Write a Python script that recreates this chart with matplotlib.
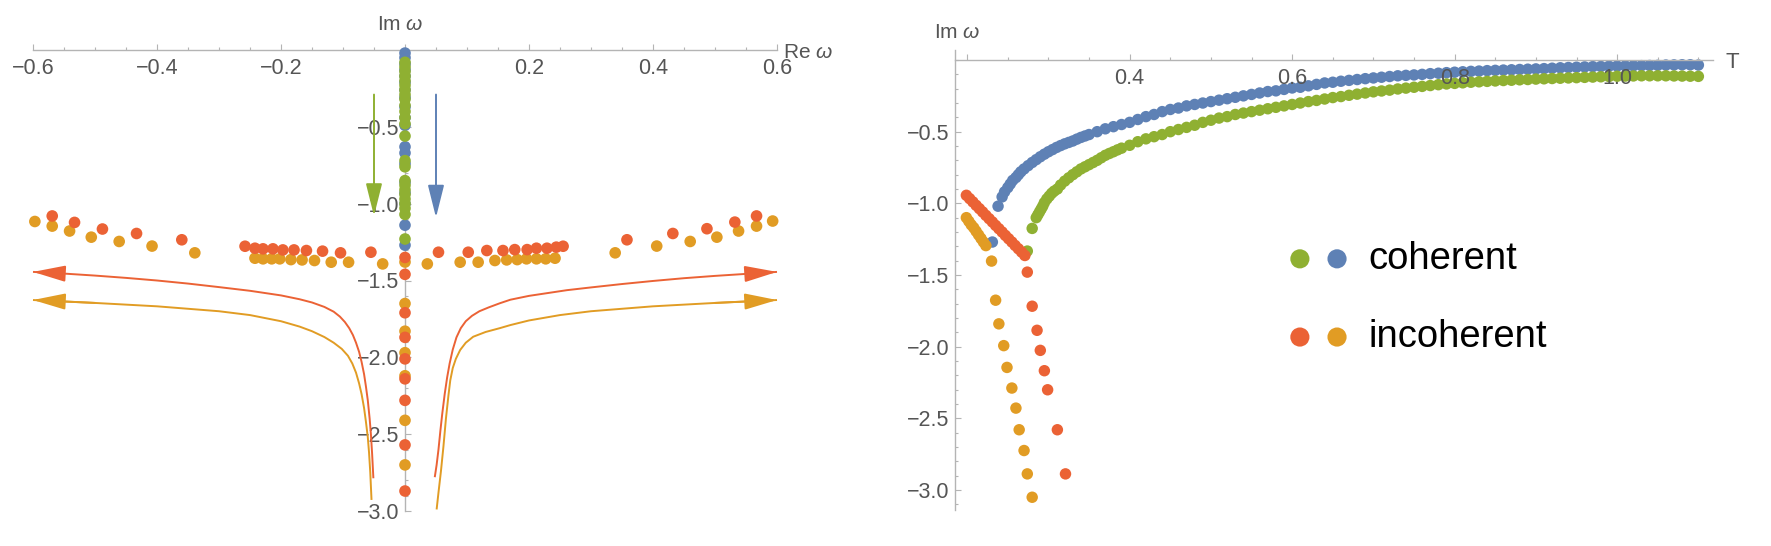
import matplotlib.pyplot as plt
from matplotlib.ticker import MultipleLocator, FixedLocator, FixedFormatter

plt.rcParams['font.family'] = ['Liberation Sans', 'DejaVu Sans']
plt.rcParams['mathtext.fontset'] = 'custom'
plt.rcParams['mathtext.rm'] = 'Liberation Sans'
plt.rcParams['mathtext.it'] = 'Liberation Sans:italic'

c_blue = '#5E81B5'
c_yellow = '#E19C24'
c_green = '#8FB032'
c_red = '#EB6235'
axis_gray = '#b4b4b4'
label_gray = '#555555'

# ---- left panel: complex omega plane ----
col_blue = [-0.02, -0.05, -0.09, -0.13, -0.17, -0.21, -0.26, -0.31, -0.37, -0.44,
            -0.49, -0.63, -0.67, -0.74, -0.86, -0.93, -1.00, -1.14, -1.27]
col_green = [-0.08, -0.11, -0.14, -0.17, -0.20, -0.23, -0.26, -0.29, -0.32, -0.36,
             -0.40, -0.44, -0.48, -0.56, -0.72, -0.76, -0.85, -0.88, -0.91, -0.94,
             -0.97, -1.00, -1.03, -1.07, -1.23]
col_yellow = [-1.38, -1.65, -1.83, -1.97, -2.12, -2.41, -2.70]
col_red = [-1.35, -1.46, -1.71, -1.87, -2.01, -2.14, -2.28, -2.57, -2.87]

pole_red_re = [-0.569, -0.533, -0.488, -0.433, -0.360, -0.258, -0.242, -0.229, -0.213, -0.197,
               -0.179, -0.159, -0.133, -0.104, -0.055,
               0.054, 0.102, 0.132, 0.158, 0.177, 0.197, 0.212, 0.229, 0.244, 0.255,
               0.358, 0.432, 0.487, 0.532, 0.567]
pole_red_im = [-1.080, -1.122, -1.165, -1.194, -1.235, -1.277, -1.290, -1.294, -1.294, -1.301,
               -1.301, -1.305, -1.309, -1.320, -1.316,
               -1.316, -1.316, -1.305, -1.305, -1.299, -1.299, -1.290, -1.290, -1.283, -1.277,
               -1.235, -1.194, -1.163, -1.120, -1.080]
pole_yellow_re = [-0.597, -0.569, -0.541, -0.506, -0.461, -0.408, -0.339, -0.242, -0.229, -0.215,
                  -0.202, -0.184, -0.166, -0.146, -0.119, -0.091, -0.036,
                  0.036, 0.089, 0.118, 0.145, 0.164, 0.181, 0.196, 0.212, 0.227,
                  0.242, 0.339, 0.406, 0.460, 0.503, 0.538, 0.567, 0.593]
pole_yellow_im = [-1.116, -1.146, -1.178, -1.218, -1.246, -1.276, -1.320, -1.355, -1.359, -1.359,
                  -1.359, -1.364, -1.366, -1.370, -1.381, -1.381, -1.392,
                  -1.392, -1.381, -1.381, -1.370, -1.366, -1.364, -1.359, -1.359, -1.359,
                  -1.355, -1.320, -1.276, -1.246, -1.218, -1.178, -1.146, -1.113]

curve_red_left_re = [-0.600, -0.55, -0.50, -0.45, -0.40, -0.35, -0.30, -0.25, -0.20, -0.17,
                     -0.15, -0.13, -0.115, -0.105, -0.097, -0.090, -0.084, -0.079, -0.074, -0.070,
                     -0.066, -0.063, -0.060, -0.057, -0.055, -0.053, -0.051]
curve_red_left_im = [-1.444, -1.455, -1.468, -1.483, -1.500, -1.520, -1.543, -1.567, -1.597, -1.622,
                     -1.643, -1.672, -1.703, -1.735, -1.770, -1.810, -1.855, -1.905, -1.965, -2.030,
                     -2.110, -2.190, -2.280, -2.400, -2.500, -2.630, -2.787]
curve_red_right_re = [0.600, 0.55, 0.50, 0.45, 0.40, 0.35, 0.30, 0.261, 0.20, 0.17,
                      0.153, 0.135, 0.120, 0.108, 0.098, 0.090, 0.083, 0.077, 0.072, 0.068,
                      0.064, 0.060, 0.057, 0.054, 0.051, 0.048]
curve_red_right_im = [-1.444, -1.457, -1.470, -1.485, -1.503, -1.523, -1.545, -1.563, -1.600, -1.625,
                      -1.648, -1.675, -1.700, -1.730, -1.765, -1.810, -1.870, -1.950, -2.040, -2.130,
                      -2.240, -2.370, -2.480, -2.600, -2.700, -2.780]
curve_yellow_left_re = [-0.600, -0.50, -0.40, -0.30, -0.25, -0.20, -0.17, -0.15, -0.13, -0.115,
                        -0.102, -0.092, -0.085, -0.079, -0.074, -0.070, -0.066, -0.063, -0.060, -0.058,
                        -0.056, -0.054]
curve_yellow_left_im = [-1.627, -1.646, -1.668, -1.700, -1.725, -1.765, -1.800, -1.830, -1.868, -1.905,
                        -1.945, -1.990, -2.040, -2.100, -2.170, -2.240, -2.330, -2.420, -2.520, -2.620,
                        -2.750, -2.928]
curve_yellow_right_re = [0.600, 0.50, 0.40, 0.30, 0.25, 0.20, 0.17, 0.153, 0.13, 0.11,
                         0.098, 0.089, 0.082, 0.077, 0.073, 0.070, 0.066, 0.062, 0.058, 0.054,
                         0.051]
curve_yellow_right_im = [-1.627, -1.646, -1.668, -1.700, -1.725, -1.760, -1.790, -1.810, -1.835, -1.866,
                         -1.905, -1.952, -2.010, -2.070, -2.150, -2.250, -2.400, -2.580, -2.740, -2.880,
                         -2.990]

# ---- right panel: Im omega vs T ----
coh_blue_T = [0.231, 0.238, 0.243, 0.246, 0.25, 0.253, 0.256, 0.26, 0.263, 0.266,
              0.27, 0.275, 0.28, 0.285, 0.29, 0.295, 0.30, 0.305, 0.31, 0.315,
              0.32, 0.325, 0.33, 0.335, 0.34, 0.345, 0.35, 0.36, 0.37, 0.38,
              0.39, 0.40, 0.41, 0.42,
              0.43, 0.44, 0.45, 0.46, 0.47, 0.48, 0.49, 0.50, 0.51, 0.52,
              0.53, 0.54, 0.55, 0.56, 0.57, 0.58, 0.59, 0.60, 0.61, 0.62,
              0.63, 0.64, 0.65, 0.66, 0.67, 0.68, 0.69, 0.70, 0.71, 0.72,
              0.73, 0.74, 0.75, 0.76, 0.77, 0.78, 0.79, 0.80, 0.81, 0.82,
              0.83, 0.84, 0.85, 0.86, 0.87, 0.88, 0.89, 0.90, 0.91, 0.92,
              0.93, 0.94, 0.95, 0.96, 0.97, 0.98, 0.99, 1.00, 1.01, 1.02,
              1.03, 1.04, 1.05, 1.06, 1.07, 1.08, 1.09, 1.10]
coh_blue_im = [-1.27, -1.02, -0.955, -0.92, -0.89, -0.865, -0.84, -0.82, -0.80, -0.78,
               -0.76, -0.737, -0.715, -0.695, -0.675, -0.657, -0.64, -0.625, -0.61, -0.597,
               -0.585, -0.575, -0.565, -0.552, -0.54, -0.53, -0.52, -0.50, -0.48, -0.465,
               -0.45, -0.435, -0.415, -0.395,
               -0.38, -0.36, -0.345, -0.335, -0.32, -0.31, -0.30, -0.29, -0.28, -0.27,
               -0.26, -0.25, -0.24, -0.23, -0.22, -0.215, -0.205, -0.195, -0.19, -0.18,
               -0.17, -0.16, -0.155, -0.148, -0.142, -0.136, -0.13, -0.125, -0.12, -0.115,
               -0.11, -0.107, -0.104, -0.10, -0.095, -0.092, -0.088, -0.085, -0.082, -0.079,
               -0.077, -0.074, -0.072, -0.07, -0.068, -0.066, -0.064, -0.062, -0.06, -0.057,
               -0.054, -0.052, -0.05, -0.048, -0.046, -0.045, -0.043, -0.042, -0.041, -0.04,
               -0.039, -0.038, -0.037, -0.035, -0.034, -0.033, -0.033, -0.035]
coh_green_T = [0.274, 0.280, 0.285, 0.287, 0.289, 0.291, 0.293, 0.295, 0.298, 0.301,
               0.304, 0.307, 0.311, 0.315, 0.32, 0.325, 0.33, 0.335, 0.34, 0.345,
               0.35, 0.355, 0.36, 0.365, 0.37, 0.375, 0.38, 0.385, 0.39, 0.40,
               0.41, 0.42, 0.43,
               0.44, 0.45, 0.46, 0.47, 0.48, 0.49, 0.50, 0.51, 0.52, 0.53,
               0.54, 0.55, 0.56, 0.57, 0.58, 0.59, 0.60, 0.61, 0.62, 0.63,
               0.64, 0.65, 0.66, 0.67, 0.68, 0.69, 0.70, 0.71, 0.72, 0.73,
               0.74, 0.75, 0.76, 0.77, 0.78, 0.79, 0.80, 0.81, 0.82, 0.83,
               0.84, 0.85, 0.86, 0.87, 0.88, 0.89, 0.90, 0.91, 0.92, 0.93,
               0.94, 0.95, 0.96, 0.97, 0.98, 0.99, 1.00, 1.01, 1.02, 1.03,
               1.04, 1.05, 1.06, 1.07, 1.08, 1.09, 1.10]
coh_green_im = [-1.333, -1.175, -1.10, -1.08, -1.06, -1.04, -1.02, -0.995, -0.97, -0.95,
                -0.93, -0.915, -0.90, -0.872, -0.845, -0.822, -0.80, -0.78, -0.76, -0.745,
                -0.73, -0.715, -0.70, -0.682, -0.665, -0.652, -0.64, -0.627, -0.615, -0.595,
                -0.57, -0.55, -0.535,
                -0.52, -0.50, -0.485, -0.47, -0.455, -0.435, -0.42, -0.405, -0.395, -0.38,
                -0.37, -0.36, -0.35, -0.34, -0.33, -0.32, -0.31, -0.30, -0.29, -0.282,
                -0.272, -0.262, -0.255, -0.246, -0.238, -0.23, -0.222, -0.216, -0.21, -0.202,
                -0.196, -0.19, -0.184, -0.178, -0.172, -0.167, -0.163, -0.159, -0.155, -0.152,
                -0.149, -0.146, -0.143, -0.141, -0.138, -0.136, -0.133, -0.131, -0.129, -0.127,
                -0.125, -0.123, -0.121, -0.119, -0.117, -0.115, -0.113, -0.112, -0.111, -0.110,
                -0.110, -0.110, -0.110, -0.111, -0.112, -0.113, -0.114]
inc_red_T = [0.199, 0.203, 0.207, 0.211, 0.215, 0.219, 0.223, 0.227, 0.231, 0.235,
             0.239, 0.243, 0.247, 0.251, 0.255, 0.259, 0.263, 0.267, 0.271,
             0.274, 0.280, 0.286, 0.290, 0.295, 0.299, 0.311, 0.321, 0.330]
inc_red_im = [-0.944, -0.967, -0.990, -1.014, -1.037, -1.060, -1.084, -1.107, -1.130, -1.154,
              -1.177, -1.200, -1.224, -1.247, -1.270, -1.294, -1.317, -1.340, -1.364,
              -1.480, -1.718, -1.886, -2.026, -2.168, -2.301, -2.580, -2.888, -3.220]
inc_yellow_T = [0.199, 0.202, 0.205, 0.208, 0.211, 0.214, 0.217, 0.220, 0.223,
                0.230, 0.235, 0.239, 0.245, 0.249, 0.255, 0.260, 0.264, 0.270, 0.274,
                0.280, 0.286]
inc_yellow_im = [-1.100, -1.125, -1.150, -1.170, -1.195, -1.220, -1.245, -1.270, -1.295,
                 -1.403, -1.676, -1.841, -1.993, -2.145, -2.289, -2.429, -2.580, -2.725, -2.888,
                 -3.051, -3.210]

legend_labels = ['coherent', 'incoherent']


def style_axis(ax):
    ax.spines['top'].set_visible(False)
    ax.spines['right'].set_visible(False)
    ax.spines['bottom'].set_position(('data', 0))
    for s in ['bottom', 'left']:
        ax.spines[s].set_color(axis_gray)
        ax.spines[s].set_linewidth(1.0)
    ax.tick_params(which='both', direction='in', color=axis_gray, labelcolor=label_gray,
                   labelsize=15.5, width=0.8)
    ax.tick_params(which='major', length=4)
    ax.tick_params(which='minor', length=2.2)
    ax.tick_params(axis='x', pad=6)
    ax.tick_params(axis='y', pad=4)
    ax.patch.set_alpha(0)


def minus(v):
    return ('\u2212' if v < 0 else '') + f'{abs(v):.1f}'


fig = plt.figure(figsize=(17.71, 5.46), dpi=100)

# left panel
ax1 = fig.add_axes([33 / 1771, 1 - 511 / 546, 744 / 1771, 461 / 546])
ax1.set_xlim(-0.6, 0.6)
ax1.set_ylim(-3.0, 0)
style_axis(ax1)
ax1.spines['left'].set_position(('data', 0))

xt = [-0.6, -0.4, -0.2, 0, 0.2, 0.4, 0.6]
ax1.xaxis.set_major_locator(FixedLocator(xt))
ax1.xaxis.set_major_formatter(FixedFormatter([minus(v) if v != 0 else '' for v in xt]))
ax1.xaxis.set_minor_locator(MultipleLocator(0.05))
yt = [-3.0, -2.5, -2.0, -1.5, -1.0, -0.5]
ax1.yaxis.set_major_locator(FixedLocator(yt))
ax1.yaxis.set_major_formatter(FixedFormatter([minus(v) for v in yt]))
ax1.yaxis.set_minor_locator(MultipleLocator(0.1))

curve_kw = dict(lw=1.4, solid_capstyle='butt', solid_joinstyle='round', zorder=2, clip_on=False)
for re, im, col in [(curve_red_left_re, curve_red_left_im, c_red),
                    (curve_red_right_re, curve_red_right_im, c_red),
                    (curve_yellow_left_re, curve_yellow_left_im, c_yellow),
                    (curve_yellow_right_re, curve_yellow_right_im, c_yellow)]:
    ax1.plot(re, im, color=col, **curve_kw)
    ax1.annotate('', xy=(re[0], im[0]), xytext=(re[1], im[1]),
                 arrowprops=dict(arrowstyle='-|>,head_length=2.0,head_width=0.5',
                                 color=col, lw=1.4, mutation_scale=10,
                                 shrinkA=0, shrinkB=0),
                 annotation_clip=False)

ax1.annotate('', xy=(-0.05, -1.08), xytext=(-0.05, -0.29),
             arrowprops=dict(arrowstyle='-|>,head_length=2.0,head_width=0.5', color=c_green,
                             lw=1.4, mutation_scale=10, shrinkA=0, shrinkB=0))
ax1.annotate('', xy=(0.05, -1.09), xytext=(0.05, -0.29),
             arrowprops=dict(arrowstyle='-|>,head_length=2.0,head_width=0.5', color=c_blue,
                             lw=1.4, mutation_scale=10, shrinkA=0, shrinkB=0))

dot = 70
ax1.scatter([0] * len(col_blue), col_blue, s=dot, color=c_blue, edgecolors='none', zorder=3, clip_on=False)
ax1.scatter([0] * len(col_green), col_green, s=dot, color=c_green, edgecolors='none', zorder=3, clip_on=False)
ax1.scatter(pole_yellow_re, pole_yellow_im, s=dot, color=c_yellow, edgecolors='none', zorder=3, clip_on=False)
ax1.scatter([0] * len(col_yellow), col_yellow, s=dot, color=c_yellow, edgecolors='none', zorder=3, clip_on=False)
ax1.scatter(pole_red_re, pole_red_im, s=dot, color=c_red, edgecolors='none', zorder=4, clip_on=False)
ax1.scatter([0] * len(col_red), col_red, s=dot, color=c_red, edgecolors='none', zorder=4, clip_on=False)

fig.text(400 / 1771, 1 - 25 / 546, r'Im $\omega$', ha='center', va='center', fontsize=15, color=label_gray)
fig.text(783 / 1771, 1 - 52 / 546, r'Re $\omega$', ha='left', va='center', fontsize=15, color=label_gray)

# right panel
ax2 = fig.add_axes([955 / 1771, 1 - 510 / 546, 758 / 1771, 460 / 546])
ax2.set_xlim(0.185, 1.118)
ax2.set_ylim(-3.14, 0.07)
style_axis(ax2)

xt2 = [0.2, 0.4, 0.6, 0.8, 1.0]
ax2.xaxis.set_major_locator(FixedLocator(xt2))
ax2.xaxis.set_major_formatter(FixedFormatter(['', '0.4', '0.6', '0.8', '1.0']))
ax2.xaxis.set_minor_locator(MultipleLocator(0.05))
ax2.yaxis.set_major_locator(FixedLocator(yt))
ax2.yaxis.set_major_formatter(FixedFormatter([minus(v) for v in yt]))
ax2.yaxis.set_minor_locator(MultipleLocator(0.1))

# tick labels sit on top of the points here, so keep zorder under the axis
dot2 = 68
ax2.scatter(coh_blue_T, coh_blue_im, s=dot2, color=c_blue, edgecolors='none', zorder=1)
ax2.scatter(coh_green_T, coh_green_im, s=dot2, color=c_green, edgecolors='none', zorder=1.1)
ax2.scatter(inc_yellow_T, inc_yellow_im, s=dot2, color=c_yellow, edgecolors='none', zorder=1.2)
ax2.scatter(inc_red_T, inc_red_im, s=dot2, color=c_red, edgecolors='none', zorder=1.3)

# legend drawn by hand, like the original
for yy, cols, lab in [(0.546, (c_green, c_blue), legend_labels[0]),
                      (0.376, (c_red, c_yellow), legend_labels[1])]:
    ax2.scatter([0.455, 0.504], [yy, yy], s=190, color=list(cols), edgecolors='none',
                transform=ax2.transAxes, zorder=5)
    ax2.text(0.545, yy, lab, transform=ax2.transAxes, ha='left', va='center',
             fontsize=27.5, color='black')

fig.text(957 / 1771, 1 - 33 / 546, r'Im $\omega$', ha='center', va='center', fontsize=15, color=label_gray)
fig.text(1732 / 1771, 1 - 62 / 546, 'T', ha='center', va='center', fontsize=16, color=label_gray)

plt.savefig('out.png', dpi=100)
